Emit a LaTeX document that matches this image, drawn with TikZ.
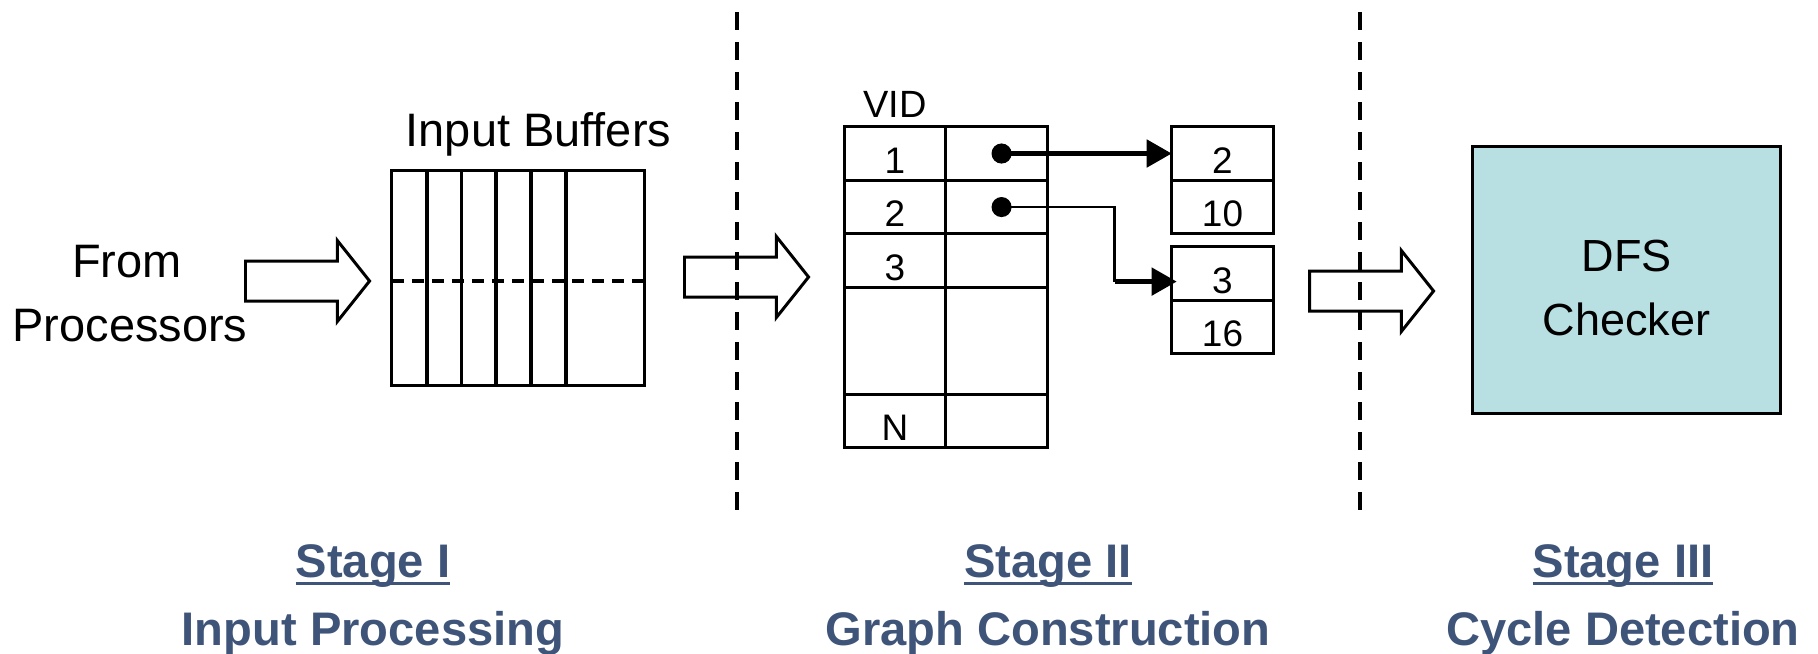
\documentclass[tikz,border=0pt]{standalone}
\usepackage{fontspec}
\setmainfont{Liberation Sans}
\usepackage{tikz}
\usetikzlibrary{shapes.arrows, arrows.meta, positioning, calc}
\definecolor{colorStage}{HTML}{3F5479}
\definecolor{fillChecker}{HTML}{B8E0E3}
\newlength\stageUlWd
\newcommand\stageUl[1]{\settowidth\stageUlWd{#1}\rlap{\rule[-0.17em]{\stageUlWd}{0.065em}}#1}

\begin{document}
\begin{tikzpicture}[
        x=0.01cm, y=-0.01cm,
        lbl/.style={inner sep=0pt, anchor=base, font=\fontsize{13.35}{16}\selectfont},
        cell/.style={draw, line width=0.85pt, minimum width=1.015cm, minimum height=0.535cm,
            inner sep=0pt, outer sep=0pt, text height=0.43cm, text depth=0.04cm,
            font=\fontsize{10.5}{12}\selectfont},
        harrow/.style={single arrow, draw, line width=0.85pt, anchor=tail, inner sep=0pt,
            inner ysep=0.185cm, minimum height=1.24cm, single arrow head extend=0.205cm,
            single arrow tip angle=103},
        ptr/.style={{Circle[length=0.2cm]}-{Triangle[length=0.25cm, width=0.27cm]}, line width=1.4pt},
        divider/.style={line width=1.15pt, dash pattern=on 0.18cm off 0.12cm},
        stage/.style={inner sep=0pt, anchor=base, text=colorStage,
            font=\fontsize{13.4}{16}\selectfont\bfseries}
    ]
    \useasboundingbox (0,0) rectangle (1818,653);

    % stage I: input buffers
    \node[lbl] (from) at (127,277) {From};
    \node[lbl] (procs) at (130,341) {Processors};
    \node[lbl] (buflbl) at (538.5,146) {Input Buffers};
    \node[draw, line width=0.85pt, minimum width=2.52cm, minimum height=2.14cm,
        inner sep=0pt, outer sep=0pt] (buf) at (518,278) {};
    \foreach \k in {1,...,5}
        \draw[line width=1.1pt] ($(buf.north west)+(\k*34.8,0)$) -- ($(buf.south west)+(\k*34.8,0)$);
    \draw[line width=1pt, dash pattern=on 0.12cm off 0.08cm] ($(buf.west)+(0,3)$) -- ($(buf.east)+(0,3)$);

    \node[harrow] (inA) at (244,281) {};
    \node[harrow] (inB) at (683,277) {};
    \node[harrow] (inC) at (1308,291) {};

    % stage II: vertex table and edge lists
    \node[cell] (v1) at (895,153.5) {1};
    \node[cell, below=0pt of v1] (v2) {2};
    \node[cell, below=0pt of v2] (v3) {3};
    \node[cell, below=0pt of v3, minimum height=1.07cm] (vgap) {};
    \node[cell, below=0pt of vgap] (vN) {N};
    \node[cell, right=0pt of v1] (p1) {};
    \node[cell, right=0pt of v2] (p2) {};
    \node[cell, right=0pt of v3] (p3) {};
    \node[cell, right=0pt of vgap, minimum height=1.07cm] (pgap) {};
    \node[cell, right=0pt of vN] (pN) {};
    \node[lbl, above=0.09cm of v1, anchor=base, font=\fontsize{10.8}{12}\selectfont] (vid) {VID};

    \node[cell] (e1a) at (1222.5,153.5) {2};
    \node[cell, below=0pt of e1a] (e1b) {10};
    \node[cell, below=0.13cm of e1b] (e2a) {3};
    \node[cell, below=0pt of e2a] (e2b) {16};

    \draw[ptr] ($(p1.center)+(-5,0)$) -- (e1a.west);
    \coordinate (entry) at ($(e2a.west)+(0,8)$);
    \coordinate (elbow) at ($(entry)+(-57,0)$);
    \draw[line width=0.75pt, {Circle[length=0.2cm]}-] ($(p2.center)+(-5,0)$) -| (elbow);
    \draw[line width=1.4pt, -{Triangle[length=0.25cm, width=0.27cm]}] (elbow) -- ($(entry)+(5,0)$);

    % stage III
    \node[draw, line width=0.85pt, fill=fillChecker, minimum width=3.07cm, minimum height=2.66cm,
        align=center, text height=1.1cm, text depth=0cm, font=\fontsize{12.8}{18.2}\selectfont] (dfs) at (1626.5,280) {DFS\\Checker};

    % stage borders
    \coordinate (divAtop) at (737,12);
    \coordinate (divAbot) at (737,516);
    \coordinate (divBtop) at (1360,12);
    \coordinate (divBbot) at (1360,520);
    \draw[divider] (divAtop) -- (divAbot);
    \draw[divider] (divBtop) -- (divBbot);

    % captions
    \node[stage] (s1) at (373,577) {\stageUl{Stage I}};
    \node[stage] (s1txt) at (373,645) {Input Processing};
    \node[stage] (s2) at (1048,577) {\stageUl{Stage II}};
    \node[stage] (s2txt) at (1048,645) {Graph Construction};
    \node[stage] (s3) at (1623,577) {\stageUl{Stage III}};
    \node[stage] (s3txt) at (1623,645) {Cycle Detection};
\end{tikzpicture}
\end{document}
